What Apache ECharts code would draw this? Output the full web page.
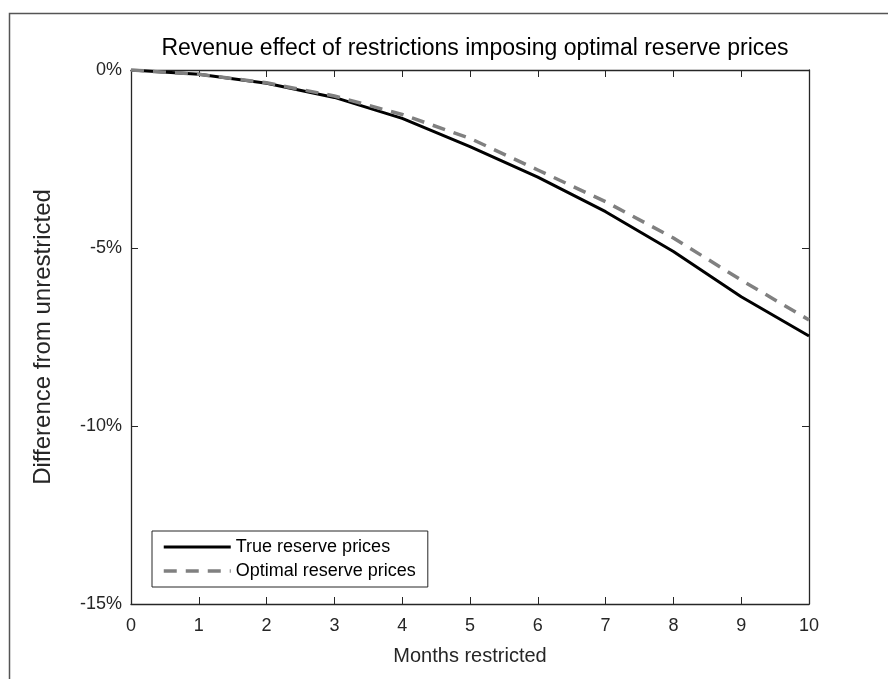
<!DOCTYPE html>
<html>
<head>
<meta charset="utf-8">
<script src="https://cdn.jsdelivr.net/npm/echarts@6/dist/echarts.min.js"></script>
<style>
  html, body { margin: 0; padding: 0; background: #fff; }
  #chart { width: 888px; height: 679px; }
</style>
</head>
<body>
<div id="chart"></div>
<script>
// Months of restriction (x axis)
const months = [0, 1, 2, 3, 4, 5, 6, 7, 8, 9, 10];
// Revenue difference from unrestricted, in percent
const trueReserve = [0, -0.12, -0.37, -0.77, -1.36, -2.15, -3.01, -3.98, -5.10, -6.37, -7.47];
const optimalReserve = [0, -0.12, -0.36, -0.73, -1.25, -1.92, -2.81, -3.70, -4.72, -5.90, -7.02];
// Y tick values
const yTicks = [0, -5, -10, -15];

const FONT = '"Liberation Sans", Arial, Helvetica, sans-serif';
const AXIS_COLOR = '#262626';

const chart = echarts.init(document.getElementById('chart'), null, { renderer: 'canvas' });

const pairs = (xs, ys) => xs.map((x, i) => [x, ys[i]]);

const baseAxisLine = { show: true, onZero: false, lineStyle: { color: AXIS_COLOR, width: 1.3 } };
const baseTick = { show: true, inside: true, length: 7, lineStyle: { color: AXIS_COLOR, width: 1 } };

chart.setOption({
  animation: false,
  backgroundColor: '#fff',
  textStyle: { fontFamily: FONT },
  title: {
    text: 'Revenue effect of restrictions imposing optimal reserve prices',
    left: 470,
    top: 32,
    textAlign: 'center',
    textStyle: { fontFamily: FONT, fontSize: 23, fontWeight: 'normal', color: '#000' }
  },
  grid: { left: 131, right: 79, top: 70, bottom: 75, containLabel: false },
  legend: {
    orient: 'vertical',
    left: 152,
    top: 531,
    itemWidth: 67,
    itemHeight: 10,
    itemGap: 6,
    padding: [7, 12, 7, 10],
    borderColor: '#262626',
    borderWidth: 1,
    backgroundColor: '#fff',
    itemStyle: { opacity: 0 },
    textStyle: { fontFamily: FONT, fontSize: 18, color: '#000', padding: [0, 0, 0, 0] },
    data: [
      { name: 'True reserve prices', lineStyle: { width: 3, type: 'solid', color: '#000' } },
      { name: 'Optimal reserve prices', lineStyle: { width: 3.5, type: [13, 9], color: '#808080' } }
    ]
  },
  xAxis: [
    {
      type: 'value', min: 0, max: 10, interval: 1,
      name: 'Months restricted', nameLocation: 'middle', nameGap: 42,
      nameTextStyle: { fontFamily: FONT, fontSize: 20, color: AXIS_COLOR },
      axisLine: baseAxisLine, axisTick: baseTick,
      axisLabel: { fontFamily: FONT, fontSize: 18, color: AXIS_COLOR, margin: 13 },
      splitLine: { show: false }
    },
    {
      type: 'value', position: 'top', min: 0, max: 10, interval: 1,
      axisLine: baseAxisLine, axisTick: baseTick,
      axisLabel: { show: false }, splitLine: { show: false }
    }
  ],
  yAxis: [
    {
      type: 'value', min: -15, max: 0, interval: 5,
      name: 'Difference from unrestricted', nameLocation: 'middle', nameGap: 76,
      nameTextStyle: { fontFamily: FONT, fontSize: 24, color: AXIS_COLOR },
      axisLine: baseAxisLine, axisTick: baseTick,
      axisLabel: {
        fontFamily: FONT, fontSize: 18, color: AXIS_COLOR, margin: 9,
        formatter: v => (yTicks.includes(v) ? v + '%' : '')
      },
      splitLine: { show: false }
    },
    {
      type: 'value', position: 'right', min: -15, max: 0, interval: 5,
      axisLine: baseAxisLine, axisTick: baseTick,
      axisLabel: { show: false }, splitLine: { show: false }
    }
  ],
  series: [
    {
      name: 'True reserve prices',
      type: 'line',
      data: pairs(months, trueReserve),
      symbol: 'none',
      showSymbol: false,
      lineStyle: { color: '#000', width: 3, type: 'solid' },
      itemStyle: { color: '#000' },
      z: 3
    },
    {
      name: 'Optimal reserve prices',
      type: 'line',
      data: pairs(months, optimalReserve),
      symbol: 'none',
      showSymbol: false,
      lineStyle: { color: '#808080', width: 3.5, type: [13, 9] },
      itemStyle: { color: '#808080' },
      z: 4
    }
  ],
  graphic: [
    {
      type: 'rect',
      shape: { x: 9.5, y: 13.5, width: 900, height: 700 },
      style: { fill: 'none', stroke: '#555', lineWidth: 1.5 },
      silent: true
    }
  ]
});
</script>
</body>
</html>
